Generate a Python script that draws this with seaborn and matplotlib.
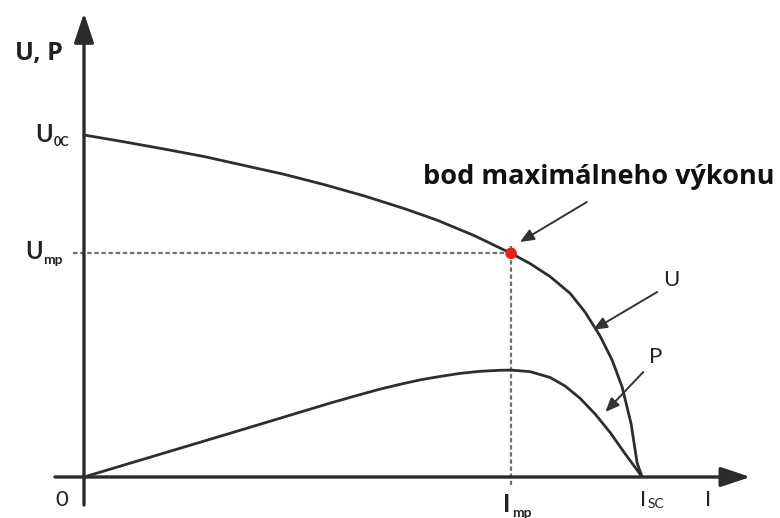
"""
U-I and P-I characteristic of a solar cell
"""

import numpy as np
import pandas as pd
import matplotlib
matplotlib.use('Agg')
import matplotlib.pyplot as plt
import seaborn as sns

# ----------------------------------------------------------------------------
# Data (normalised: I_sc = 1, U_oc = 1)
# ----------------------------------------------------------------------------
u_current = [0.0, 0.0717, 0.1434, 0.2151, 0.2867, 0.3584, 0.4301, 0.5018,
             0.5735, 0.6326, 0.6989, 0.7652, 0.7993, 0.8351, 0.8710, 0.8978,
             0.9247, 0.9462, 0.9642, 0.9803, 0.9910, 1.0]
u_voltage = [1.000, 0.980, 0.959, 0.937, 0.911, 0.885, 0.855, 0.822,
             0.785, 0.751, 0.706, 0.654, 0.624, 0.586, 0.537, 0.482,
             0.412, 0.342, 0.263, 0.155, 0.041, 0.0]

p_current = [0.0, 0.1434, 0.2867, 0.4409, 0.4839, 0.5305, 0.5663, 0.6022,
             0.6380, 0.6738, 0.7097, 0.7455, 0.7652, 0.7993, 0.8351, 0.8620,
             0.8889, 0.9158, 0.9427, 0.9695, 1.0]
p_power = [0.0, 0.070, 0.140, 0.216, 0.236, 0.257, 0.271, 0.284,
           0.294, 0.303, 0.309, 0.312, 0.3126, 0.308, 0.291, 0.266,
           0.230, 0.184, 0.130, 0.068, 0.0]

I_MP = 0.7652
U_MP = 0.654
U_OC = 1.0
I_SC = 1.0

df_u = pd.DataFrame({'I': u_current, 'val': u_voltage})
df_p = pd.DataFrame({'I': p_current, 'val': p_power})
df_mp = pd.DataFrame({'I': [I_MP], 'val': [U_MP]})

sns.set_style("white")
plt.rcParams['font.family'] = ['Lato', 'DejaVu Sans']

fig = plt.figure(figsize=(7.8, 5.18), dpi=100)
ax = fig.add_axes([0, 0, 1, 1])
ax.set_xlim(-0.1505, 1.247)
ax.set_ylim(-0.1199, 1.3947)

axis_col = '#2b2b2b'
curve_col = '#2e2e2e'

# axes with arrows
ax.annotate('', xy=(1.194, 0), xytext=(-0.052, 0),
            arrowprops=dict(arrowstyle='-|>,head_length=0.9,head_width=0.3',
                            lw=2.4, color=axis_col, mutation_scale=20,
                            shrinkA=0, shrinkB=0))
ax.annotate('', xy=(0, 1.357), xytext=(0, -0.082),
            arrowprops=dict(arrowstyle='-|>,head_length=0.9,head_width=0.3',
                            lw=2.4, color=axis_col, mutation_scale=20,
                            shrinkA=0, shrinkB=0))

# dashed guides to the max power point
ax.plot([-0.02, I_MP], [U_MP, U_MP], ls=(0, (2, 1.2)), lw=1.6, color='#707070', zorder=2)
ax.plot([I_MP, I_MP], [U_MP + 0.02, -0.03], ls=(0, (2, 1.2)), lw=1.6, color='#707070', zorder=2)

# curves
sns.lineplot(data=df_u, x='I', y='val', ax=ax, color=curve_col, lw=2, sort=False, zorder=3)
sns.lineplot(data=df_p, x='I', y='val', ax=ax, color=curve_col, lw=2, sort=False, zorder=3)
sns.scatterplot(data=df_mp, x='I', y='val', ax=ax, color='#e8201c', s=70,
                edgecolor='none', zorder=4)
ax.axis('off')

# labels on axes
ax.text(-0.081, 1.237, 'U, P', ha='center', va='center', fontsize=18, fontweight='bold',
        color='#222', family=['Open Sans', 'DejaVu Sans'])
ax.text(-0.056, U_OC, 'U', ha='right', va='center', fontsize=17, fontweight='bold', color='#222')
ax.text(-0.055, U_OC - 0.02, '0C', ha='left', va='center', fontsize=9, fontweight='bold', color='#222')
ax.text(-0.073, U_MP + 0.006, 'U', ha='right', va='center', fontsize=17, fontweight='bold', color='#222')
ax.text(-0.074, U_MP - 0.02, 'mp', ha='left', va='center', fontsize=10, fontweight='bold', color='#222')

ax.text(-0.039, -0.067, '0', ha='center', va='center', fontsize=16, color='#222')
ax.text(I_MP - 0.007, -0.079, 'I', ha='center', va='center', fontsize=18, fontweight='bold', color='#222')
ax.text(I_MP + 0.002, -0.105, 'mp', ha='left', va='center', fontsize=10, fontweight='bold', color='#222')
ax.text(I_SC + 0.002, -0.067, 'I', ha='center', va='center', fontsize=16, color='#222')
ax.text(I_SC + 0.009, -0.079, 'SC', ha='left', va='center', fontsize=10, color='#222')
ax.text(1.118, -0.067, 'I', ha='center', va='center', fontsize=16, color='#222')

# curve annotations
arrow_kw = dict(arrowstyle='-|>,head_length=0.6,head_width=0.25', lw=1.4,
                color='#333333', mutation_scale=14, shrinkA=0, shrinkB=0)
ax.annotate('', xy=(0.781, 0.687), xytext=(0.901, 0.804), arrowprops=arrow_kw)
ax.annotate('', xy=(0.912, 0.430), xytext=(1.027, 0.541), arrowprops=arrow_kw)
ax.annotate('', xy=(0.934, 0.190), xytext=(1.002, 0.307), arrowprops=arrow_kw)

ax.text(1.052, 0.576, 'U', ha='center', va='center', fontsize=16, color='#222')
ax.text(1.025, 0.351, 'P', ha='center', va='center', fontsize=16, color='#222')
ax.text(0.6075, 0.877, 'bod maximálneho výkonu', ha='left', va='center',
        fontsize=19.5, fontweight='bold', color='#111', family=['Open Sans', 'DejaVu Sans'])

plt.savefig('out.png', dpi=100)
plt.close()
